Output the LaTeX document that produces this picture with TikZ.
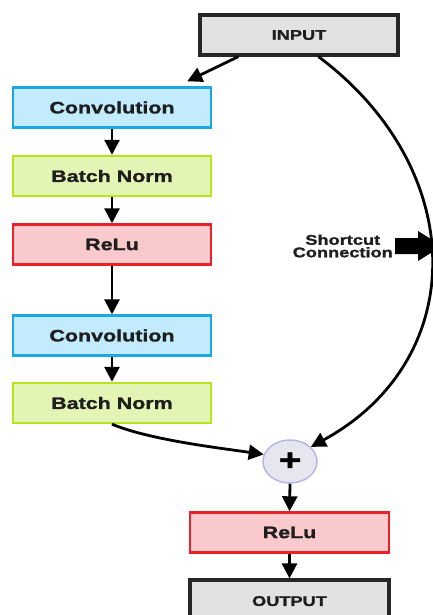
\documentclass[tikz,border=0pt]{standalone}
\usepackage{fontspec}
\setmainfont[FakeStretch=1.3,FakeBold=1.5]{Liberation Sans}
\usetikzlibrary{arrows.meta,shapes.geometric,calc}

\definecolor{convfill}{HTML}{C2ECFD}
\definecolor{convline}{HTML}{1EA7E8}
\definecolor{bnfill}{HTML}{E3F5B5}
\definecolor{bnline}{HTML}{B5E61D}
\definecolor{relufill}{HTML}{F9C9CC}
\definecolor{reluline}{HTML}{EC2027}
\definecolor{iofill}{HTML}{E2E2E2}
\definecolor{sumfill}{HTML}{E6E6EE}
\definecolor{sumline}{HTML}{B9B4E6}
\definecolor{txt}{HTML}{1E1E1E}

\tikzset{
  layer/.style={rectangle, minimum width=198pt, minimum height=40pt, line width=2.4pt,
    font=\fontsize{16.5}{18}\selectfont\bfseries, text=txt, inner sep=0pt},
  convbox/.style={layer, fill=convfill, draw=convline},
  bnbox/.style={layer, fill=bnfill, draw=bnline},
  relubox/.style={layer, fill=relufill, draw=reluline},
  iobox/.style={layer, fill=iofill, draw=black!85, line width=3.2pt,
    font=\fontsize{14}{16}\selectfont\bfseries},
  sumnode/.style={ellipse, minimum width=54pt, minimum height=43pt, fill=sumfill,
    draw=sumline, line width=1.5pt, inner sep=0pt},
  flow/.style={line width=2.8pt, -{Triangle[length=15pt,width=15pt]}},
}

\begin{document}
\begin{tikzpicture}[x=1pt,y=-1pt]
  \useasboundingbox (0,0) rectangle (433,615);

  % main branch
  \node[iobox]   (input) at (299,35)    {INPUT};
  \node[convbox] (conv1) at (112,107.5) {Convolution};
  \node[bnbox]   (bn1)   at (112,176)   {Batch Norm};
  \node[relubox] (relu1) at (112,244.5) {ReLu};
  \node[convbox] (conv2) at (112,335.5) {Convolution};
  \node[bnbox]   (bn2)   at (112,403)   {Batch Norm};

  % merge and output
  \node[sumnode] (sum) at (290,461.5) {\fontsize{30}{30}\selectfont\bfseries +};
  \node[relubox, minimum width=199pt] (relu2) at (289.5,532.5) {ReLu};
  \node[iobox, minimum width=199pt, minimum height=50pt, text depth=0pt] (output) at (289.5,605) {\raisebox{8pt}{OUTPUT}};

  % residual branch connectors
  \draw[flow] ($(input.south west)+(40,0)$) -- ($(conv1.north east)+(-25,-5)$);
  \draw[flow] (conv1.south) -- (bn1.north);
  \draw[flow] (bn1.south) -- (relu1.north);
  \draw[flow] (relu1.south) -- (conv2.north);
  \draw[flow] (conv2.south) -- (bn2.north);
  \draw[flow] (bn2.south) .. controls (150,440) and (220,448) .. (sum.165);

  % identity shortcut
  \draw[flow] ($(input.south west)+(120,0)$) .. controls (470,170) and (470,360) .. (sum.35);

  \draw[flow] (sum.south) -- (relu2.north);
  \draw[flow] (relu2.south) -- (output.north);

  % shortcut label with block arrow
  \node[anchor=east, align=center, text=txt, inner sep=0pt,
        font=\fontsize{14}{12.5}\selectfont\bfseries] (sclabel) at (393,246)
        {Shortcut\\Connection};
  \fill[black] (395,238) -- (418,238) -- (418,231) -- (442,246) -- (418,261)
               -- (418,254) -- (395,254) -- cycle;
\end{tikzpicture}
\end{document}
